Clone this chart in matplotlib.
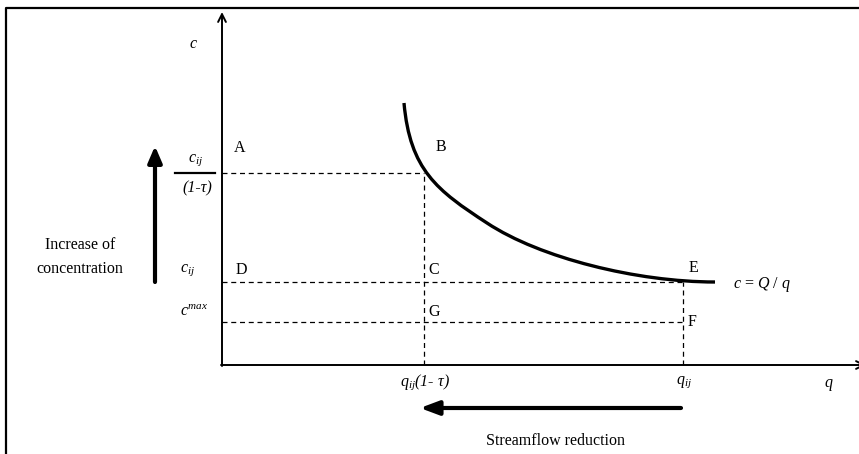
import numpy as np
import matplotlib
matplotlib.use("Agg")
import matplotlib.pyplot as plt
from matplotlib.path import Path
from matplotlib.patches import PathPatch

plt.rcParams["font.family"] = ["Liberation Serif", "DejaVu Serif"]
plt.rcParams["mathtext.fontset"] = "custom"
plt.rcParams["mathtext.rm"] = "Liberation Serif"
plt.rcParams["mathtext.it"] = "Liberation Serif:italic"

# curve c = Q/q as drawn: two cubic Bezier pieces (q, c in pixel units from the origin)
curve_q = [182, 188, 215, 265, 318, 415, 493]
curve_c = [262, 195, 174.5, 142, 107, 83, 83]

# reference levels
q_ij = 461          # q_ij
q_red = 202         # q_ij (1 - tau)
c_high = 192        # c_ij / (1 - tau)
c_ij = 83
c_max = 43

W, H = 859, 454
X0, Y0 = 222, 365   # origin in pixels


def P(x, y):
    """pixel position -> data position"""
    return x - X0, Y0 - y


fig = plt.figure(figsize=(W / 100, H / 100), dpi=100)
ax = fig.add_axes([0, 0, 1, 1])
ax.set_xlim(-X0, W - X0)
ax.set_ylim(Y0 - H, Y0)
ax.axis("off")

# outer frame (top and left edges visible)
fx, fy = P(6, 8)
ax.plot([fx, fx, W], [Y0 - H - 5, fy, fy], color="black", lw=1.6, solid_capstyle="butt")

# axes with arrows
ax.annotate("", xy=P(222, 12), xytext=(0, -1), annotation_clip=False,
            arrowprops=dict(arrowstyle="->", lw=1.4, color="black", mutation_scale=14,
                            shrinkA=0, shrinkB=0))
ax.annotate("", xy=P(866, 365), xytext=(-1, 0), annotation_clip=False,
            arrowprops=dict(arrowstyle="->", lw=1.4, color="black", mutation_scale=14,
                            shrinkA=0, shrinkB=0))

# dashed guide lines
dash = dict(color="black", lw=0.9, ls=(0, (4, 3)))
ax.plot([0, q_red], [c_high, c_high], **dash)
ax.plot([q_red, q_red], [0, c_high], **dash)
ax.plot([0, q_ij], [c_ij, c_ij], **dash)
ax.plot([q_ij, q_ij], [0, c_ij], **dash)
ax.plot([0, q_ij], [c_max, c_max], **dash)

# the curve
codes = [Path.MOVETO] + [Path.CURVE4] * (len(curve_q) - 1)
path = Path(np.column_stack([curve_q, curve_c]), codes)
ax.add_patch(PathPatch(path, facecolor="none", edgecolor="black", lw=2.4, capstyle="butt"))

fs = 11.5
# point letters
for lab, (x, y) in {"A": (240, 148), "B": (441, 147), "D": (241, 270), "C": (434, 270),
                    "E": (693, 268), "G": (434, 312), "F": (692, 322)}.items():
    ax.text(*P(x, y), lab, fontsize=fs, ha="center", va="center")

# axis names
ax.text(*P(193, 44), "$c$", fontsize=fs, ha="center", va="center")
ax.text(*P(829, 385), "$q$", fontsize=fs, ha="center", va="center")

# y labels
ax.text(*P(196, 160), "$c_{ij}$", fontsize=fs, ha="center", va="center")
ax.plot([P(175, 0)[0], P(215, 0)[0]], [c_high, c_high], color="black", lw=1.6)
ax.text(*P(197, 188), "(1-\u03c4)", fontsize=fs, ha="center", va="center", style="italic")
ax.text(*P(188, 270), "$c_{ij}$", fontsize=fs, ha="center", va="center")
ax.text(*P(194, 312), "$c^{max}$", fontsize=fs, ha="center", va="center")

# x labels
ax.text(*P(425, 382), "$q_{ij}$(1- \u03c4)", fontsize=fs, ha="center", va="center", style="italic")
ax.text(*P(684, 382), "$q_{ij}$", fontsize=fs, ha="center", va="center")

# curve label
ax.text(*P(733, 284), "$c$ = $Q$ / $q$", fontsize=fs, ha="left", va="center")

# increase of concentration
ax.text(*P(80, 257), "Increase of\nconcentration", fontsize=fs, ha="center", va="center",
        linespacing=1.6)
ax.annotate("", xy=P(155, 146), xytext=P(155, 282),
            arrowprops=dict(arrowstyle="-|>,head_width=0.3,head_length=0.7", lw=3,
                            color="black", mutation_scale=14, shrinkA=0, shrinkB=0))

# streamflow reduction
ax.annotate("", xy=P(420, 408), xytext=P(681, 408),
            arrowprops=dict(arrowstyle="-|>,head_width=0.3,head_length=0.8", lw=3,
                            color="black", mutation_scale=14, shrinkA=0, shrinkB=0))
ax.text(*P(556, 441), "Streamflow reduction", fontsize=fs, ha="center", va="center")

fig.savefig("out.png", dpi=100)
